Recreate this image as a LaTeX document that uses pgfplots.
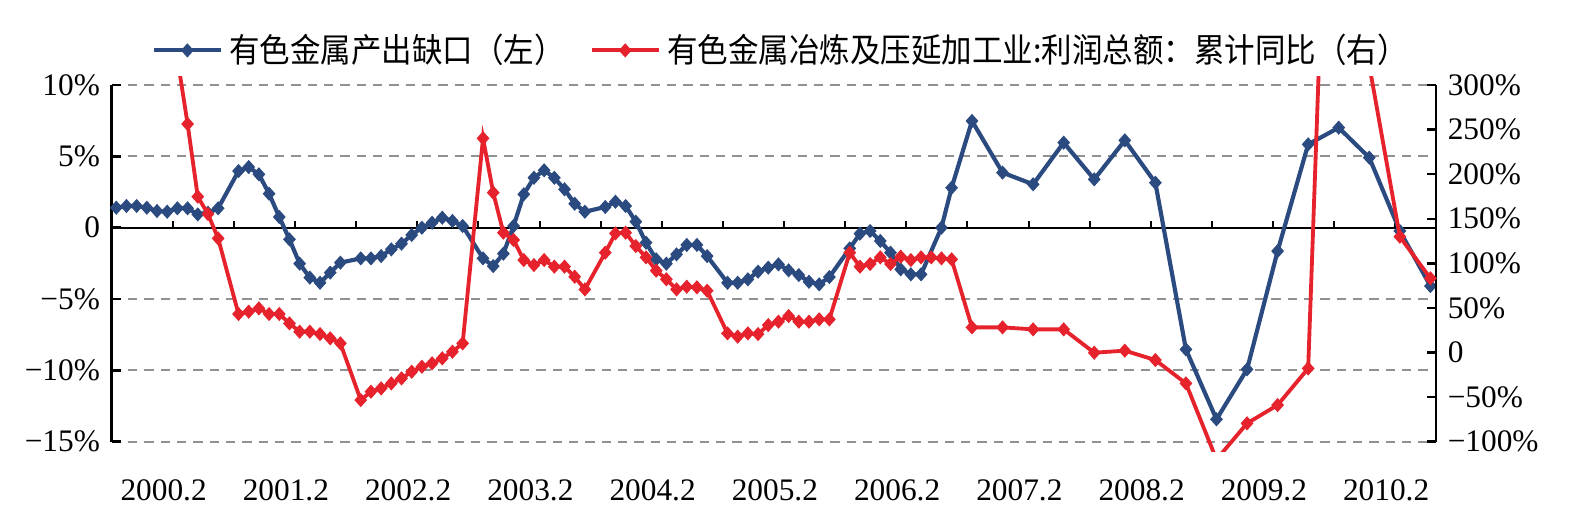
\documentclass[border=0pt]{standalone}
\usepackage{pgfplots}
\pgfplotsset{compat=1.18}
\usepackage{pgfplotstable}
\usepackage{fontspec}
\setmainfont{Liberation Serif}
\newfontfamily\cjk[FakeStretch=0.915]{Noto Sans CJK SC}

\definecolor{gapblue}{RGB}{43,75,128}
\definecolor{profitred}{RGB}{230,35,45}
\definecolor{gridgray}{RGB}{145,145,145}

% month index (0 = 2000.2), output gap in %
\pgfplotstableread{
i v
0 1.40
1 1.52
2 1.52
3 1.40
4 1.17
5 1.12
6 1.36
7 1.36
8 0.93
9 1.05
10 1.36
12 3.97
13 4.25
14 3.74
15 2.38
16 0.75
17 -0.82
18 -2.52
19 -3.50
20 -3.86
21 -3.15
22 -2.45
24 -2.15
25 -2.15
26 -1.99
27 -1.52
28 -1.12
29 -0.51
30 0.00
31 0.35
32 0.70
33 0.47
34 0.12
36 -2.15
37 -2.69
38 -1.82
39 0.12
40 2.34
41 3.50
42 4.02
43 3.50
44 2.69
45 1.68
46 1.12
48 1.45
49 1.82
50 1.52
51 0.42
52 -1.05
53 -2.22
54 -2.52
55 -1.87
56 -1.21
57 -1.21
58 -1.99
60 -3.86
61 -3.86
62 -3.62
63 -3.08
64 -2.80
65 -2.57
66 -2.99
67 -3.32
68 -3.79
69 -3.97
70 -3.46
72 -1.45
73 -0.42
74 -0.23
75 -0.93
76 -1.75
77 -2.92
78 -3.27
79 -3.27
81 0.00
82 2.80
84 7.48
87 3.86
90 3.04
93 5.96
96 3.39
99 6.12
102 3.15
105 -8.53
108 -13.43
111 -9.93
114 -1.64
117 5.84
120 7.01
123 4.91
126 -0.23
129 -4.09
}\gaptable

% month index, cumulative YoY profit growth in %
\pgfplotstableread{
i r
6 330
7 256.3
8 174.8
9 155.3
10 128.0
12 43.2
13 45.8
14 49.5
15 43.2
16 43.2
17 32.7
18 23.4
19 23.4
20 20.7
21 15.9
22 10.3
24 -53.3
25 -43.9
26 -40.2
27 -34.6
28 -29.0
29 -21.5
30 -15.9
31 -12.1
32 -6.5
33 0.9
34 10.3
36 240.2
37 179.3
38 134.4
39 126.2
40 103.7
41 98.1
42 103.7
43 96.3
44 96.3
45 85.0
46 70.8
48 112.0
49 133.6
50 134.4
51 119.4
52 106.7
53 91.8
54 82.1
55 70.8
56 73.8
57 73.1
58 69.3
60 21.5
61 17.8
62 21.5
63 20.7
64 30.8
65 34.6
66 40.9
67 34.6
68 34.6
69 37.2
70 37.2
72 112.0
73 96.3
74 99.3
75 106.7
76 99.3
77 107.5
78 103.7
79 106.7
80 106.7
81 105.6
82 104.5
84 28.2
87 28.2
90 26.0
93 26.0
96 -0.2
99 2.1
102 -8.4
105 -34.6
108 -120
111 -79.4
114 -58.9
117 -17.8
120 950
123 322
126 129.9
129 83.2
}\profittable

\pgfplotsset{
  common/.style={
    scale only axis, width=397.29pt,
    xmin=-0.45, xmax=129.55,
    anchor=south west,
    tick label style={font=\fontsize{9.4}{10}\selectfont, black},
    tick align=inside, major tick length=2.8pt,
    ytick style={black, line width=0.75pt},
    axis line style={-},
    y axis line style={-, black, line width=0.75pt},
  },
  series/.style={#1, line width=1.25pt, mark=diamond*, mark size=1.8pt,
    mark options={solid, line width=0.45pt, xscale=1.2}},
}

\begin{document}
\begin{tikzpicture}
\path[use as bounding box] (-33.51pt,-23.79pt) rectangle (442.29pt,132.51pt);

% left axis: output gap
\begin{axis}[common, height=107.01pt, at={(0pt,0pt)},
  ymin=-15, ymax=10,
  axis y line*=left, axis x line*=bottom,
  x axis line style={draw=none},
  xtick={4.65,16.65,28.65,40.65,52.65,64.65,76.65,88.65,100.65,112.65,124.65},
  xticklabels={2000.2,2001.2,2002.2,2003.2,2004.2,2005.2,2006.2,2007.2,2008.2,2009.2,2010.2},
  xtick style={draw=none},
  xticklabel style={yshift=-7.8pt},
  ytick={-15,-10,-5,0,5,10},
  yticklabels={−15\%,−10\%,−5\%,0,5\%,10\%},
  ymajorgrids,
  major grid style={gridgray, line width=0.55pt, dash pattern=on 2.8pt off 2.1pt},
  legend columns=2,
  legend style={at={(0.507,1.097)}, anchor=center, draw=none, fill=none,
    font=\fontsize{10}{11}\selectfont,
    /tikz/every even column/.append style={column sep=5.5pt}},
  legend image code/.code={\draw[mark repeat=2, mark phase=2, #1]
    plot coordinates {(0pt,0pt) (10pt,0pt) (20pt,0pt)};},
]
\draw[black, line width=0.6pt] (axis cs:-0.45,0) -- (axis cs:129.55,0);
\pgfplotsinvokeforeach{5.55,11.55,17.55,23.55,29.55,35.55,41.55,47.55,53.55,59.55,65.55,71.55,77.55,83.55,89.55,95.55,101.55,107.55,113.55,119.55,125.55}{
  \draw[black, line width=0.6pt] (axis cs:#1,0) -- ++(0pt,2.1pt);
}
\addplot[series=gapblue] table[x=i, y=v] {\gaptable};
\addlegendentry{\cjk 有色金属产出缺口（左）}
\addlegendimage{series=profitred, line width=1.15pt}
\addlegendentry{\cjk 有色金属冶炼及压延加工业:利润总额：累计同比（右）}
\end{axis}

% right axis: scale for profit growth
\begin{axis}[common, height=107.01pt, at={(0pt,0pt)},
  ymin=-100, ymax=300,
  axis y line*=right, axis x line=none,
  ytick={-100,-50,0,50,100,150,200,250,300},
  yticklabels={−100\%,−50\%,0,50\%,100\%,150\%,200\%,250\%,300\%},
]
\end{axis}

% profit growth series, same scale as the right axis, slightly taller clip
\begin{axis}[scale only axis, width=397.29pt, height=112.58pt,
  at={(0pt,-3.0765pt)}, anchor=south west,
  xmin=-0.45, xmax=129.55, ymin=-111.5, ymax=309.3, hide axis]
\addplot[series=profitred, line width=1.15pt] table[x=i, y=r] {\profittable};
\end{axis}
\end{tikzpicture}
\end{document}
